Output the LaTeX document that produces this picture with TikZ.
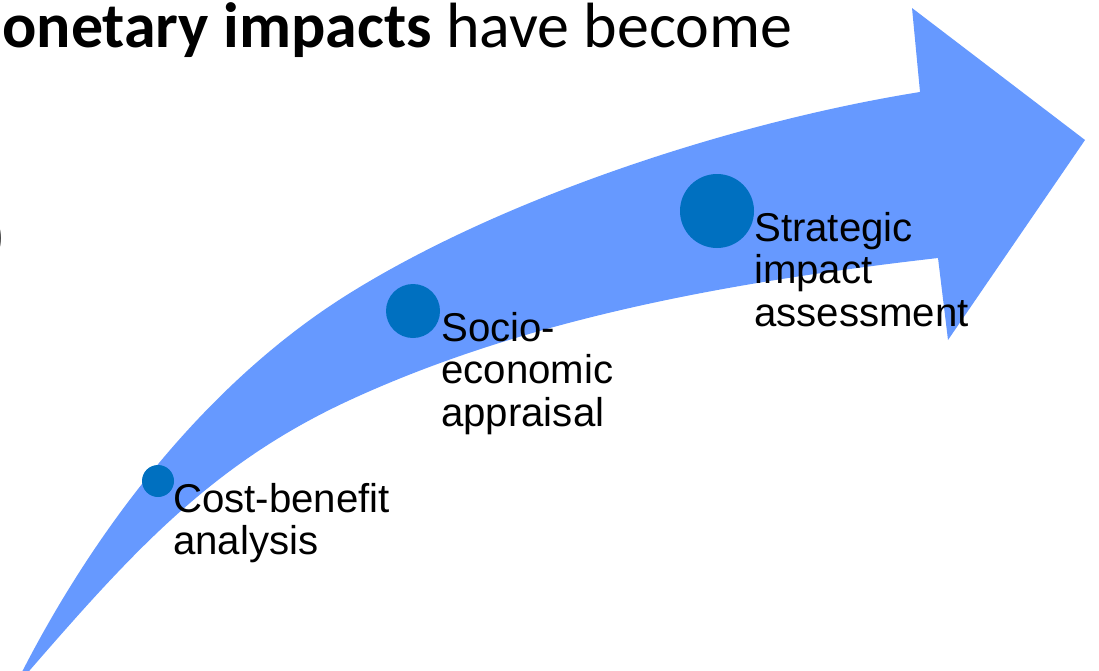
\documentclass[tikz,border=0pt]{standalone}
\usepackage{fontspec}
\setmainfont{Liberation Sans}
\newfontfamily\headfont{Carlito}
\definecolor{arrowblue}{HTML}{6699FF}
\definecolor{dotblue}{HTML}{0070C0}
\tikzstyle{stagedot}=[circle,fill=dotblue,inner sep=0pt]
\tikzstyle{stagetext}=[inner sep=0pt,anchor=base west,align=left,font=\fontsize{34.3}{36}\selectfont]

\begin{document}
\begin{tikzpicture}[x=0.03cm,y=-0.03cm]

\tikzstyle{heading}=[inner sep=0pt,font=\headfont\fontsize{54.6}{60}\selectfont]

\useasboundingbox (0,0) rectangle (1099,670);
\clip (0,0) rectangle (1099,670);

% the bent arrow: upper edge out to the head, lower edge back to the tail
\fill [arrowblue] (12,690) -- (23,670)
  .. controls (98.6,523.3) and (209.8,380) .. (350,293)
  .. controls (507,195.5) and (737.4,121.2) .. (920,92)
  -- (912,8) -- (1085,140) -- (948,340) -- (938,258)
  .. controls (739.4,280.8) and (531.6,316.4) .. (350,400)
  .. controls (214,462.7) and (135,549) .. (30,670)
  -- cycle;

\node (T) [heading, anchor=base west] at (2,47) {\textbf{onetary impacts} have become};
\node (P) [heading, anchor=base east] at (6,257) {)};

\node (A) [stagedot, minimum size=0.96cm] at (158,481) {};
\node (B) [stagedot, minimum size=1.62cm] at (413,311) {};
\node (C) [stagedot, minimum size=2.22cm] at (717,211) {};

% anchors sit on the last line
\node (A1) [stagetext] at (173,554.5) {Cost-benefit\\analysis};
\node (B1) [stagetext] at (441,426) {Socio-\\economic\\appraisal};
\node (C1) [stagetext] at (754,326) {Strategic\\impact\\assessment};

\end{tikzpicture}
\end{document}
